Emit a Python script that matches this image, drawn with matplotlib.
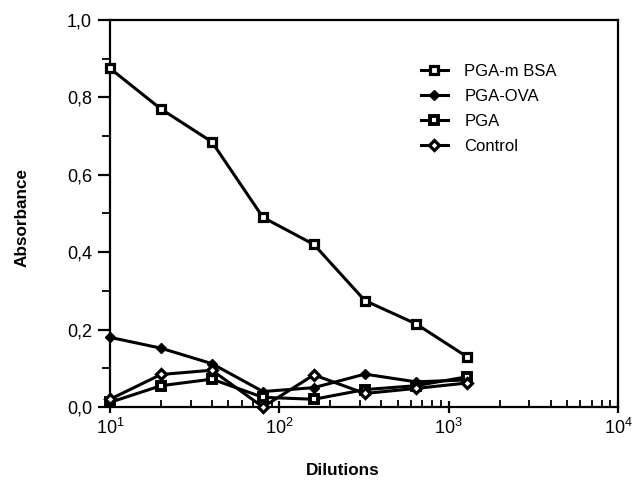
import numpy as np
import matplotlib
matplotlib.use("Agg")
import matplotlib.pyplot as plt
from matplotlib.ticker import FixedLocator, LogLocator, NullFormatter, FuncFormatter

plt.rcParams['font.family'] = ['Liberation Sans', 'DejaVu Sans']
plt.rcParams['mathtext.default'] = 'regular'

## data
dilutions = [10, 20, 40, 80, 160, 320, 640, 1280]
pga_m_bsa = [0.875, 0.77, 0.685, 0.49, 0.42, 0.275, 0.215, 0.13]
pga_ova = [0.18, 0.152, 0.112, 0.04, 0.05, 0.085, 0.065, 0.07]
pga = [0.012, 0.055, 0.072, 0.025, 0.02, 0.045, 0.055, 0.078]
control = [0.02, 0.084, 0.095, 0.0, 0.083, 0.035, 0.048, 0.062]
y_ticks = [0.0, 0.2, 0.4, 0.6, 0.8, 1.0]
x_ticks = [10, 100, 1000, 10000]

fig = plt.figure(figsize=(6.38, 4.83), dpi=100)
ax = fig.add_axes([110/638, 76/483, 508/638, 387/483])

lw = 2.2
ax.plot(dilutions, pga_m_bsa, color='k', lw=lw, marker='s', ms=5.5,
        mfc='white', mec='k', mew=2.3, label='PGA-m BSA', clip_on=False, zorder=3)
ax.plot(dilutions, pga_ova, color='k', lw=lw, marker='D', ms=5.5,
        mfc='k', mec='k', mew=1.0, label='PGA-OVA', clip_on=False, zorder=3)
ax.plot(dilutions, pga, color='k', lw=lw, marker='s', ms=5.5,
        mfc='white', mec='k', mew=2.8, label='PGA', clip_on=False, zorder=3)
ax.plot(dilutions, control, color='k', lw=lw, marker='D', ms=5.5,
        mfc='white', mec='k', mew=2.3, label='Control', clip_on=False, zorder=3)

ax.set_xscale('log')
ax.set_xlim(10, 10000)
ax.set_ylim(0, 1.0)

ax.xaxis.set_major_locator(FixedLocator(x_ticks))
ax.xaxis.set_minor_locator(LogLocator(base=10, subs=np.arange(2, 10)))
ax.xaxis.set_minor_formatter(NullFormatter())
ax.xaxis.set_major_formatter(FuncFormatter(lambda v, p: r'$10^{%d}$' % int(round(np.log10(v)))))

ax.set_yticks(y_ticks)
ax.set_yticks(np.arange(0.1, 1.0, 0.2), minor=True)
ax.yaxis.set_major_formatter(FuncFormatter(lambda v, p: ('%.1f' % v).replace('.', ',')))

for s in ax.spines.values():
    s.set_linewidth(1.6)

ax.tick_params(axis='x', which='major', direction='inout', length=8, width=1.6,
               labelsize=13, pad=4)
ax.tick_params(axis='x', which='minor', direction='in', length=5, width=1.3)
ax.tick_params(axis='y', which='major', direction='out', length=9, width=1.6,
               labelsize=13, pad=4)
ax.tick_params(axis='y', which='minor', direction='out', length=6, width=1.3)

ax.set_xlabel('Dilutions', fontsize=12.3, fontweight='bold')
ax.xaxis.set_label_coords(0.459, -0.145)
ax.set_ylabel('Absorbance', fontsize=12.3, fontweight='bold')
ax.yaxis.set_label_coords(-0.159, 0.49)

leg = ax.legend(loc='upper left', bbox_to_anchor=(421/638, 1 - 64/483),
                bbox_transform=fig.transFigure, frameon=False, fontsize=12,
                handlelength=1.6, handletextpad=1.0, labelspacing=0.6,
                borderaxespad=0, borderpad=0)

fig.savefig('out.png', dpi=100)
